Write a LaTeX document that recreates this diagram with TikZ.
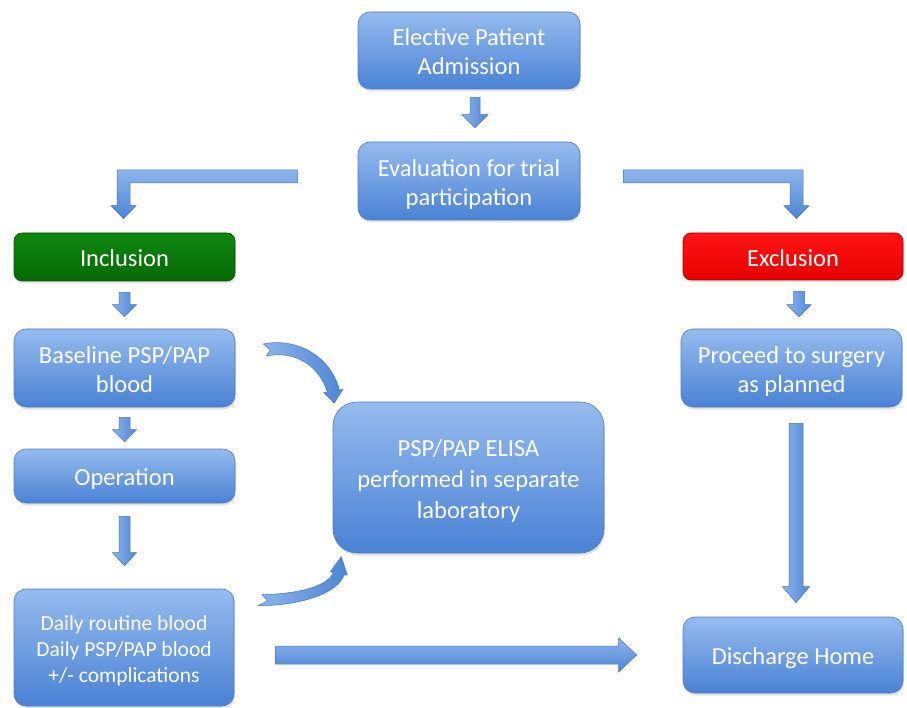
\documentclass[tikz,border=0pt]{standalone}
\usepackage{fontspec}
\setmainfont{Carlito}
\usetikzlibrary{calc,shadows}
\definecolor{boxT}{RGB}{150,187,238}
\definecolor{boxB}{RGB}{74,130,213}
\definecolor{boxE}{RGB}{80,125,190}
\definecolor{arrL}{RGB}{140,180,236}
\definecolor{arrR}{RGB}{78,133,212}
\definecolor{arrE}{RGB}{74,120,185}
\definecolor{grT}{RGB}{14,135,14}
\definecolor{grB}{RGB}{5,105,5}
\definecolor{grE}{RGB}{10,80,10}
\definecolor{rdT}{RGB}{255,20,20}
\definecolor{rdB}{RGB}{232,0,0}
\definecolor{rdE}{RGB}{170,0,0}
\newcommand\tx[1]{\raisebox{-4pt}[\height][\depth]{\begin{tabular}{@{}c@{}}#1\end{tabular}}}
\tikzset{
  boxbase/.style={rounded corners=12pt, line width=0.6pt, text=white,
    inner sep=0pt, font=\fontsize{24.5}{29}\selectfont,
    drop shadow={opacity=0.22, shadow xshift=1pt, shadow yshift=-2.5pt}},
  bluebox/.style={boxbase, draw=boxE, top color=boxT, bottom color=boxB},
  greenbox/.style={boxbase, rounded corners=8pt, draw=grE, top color=grT, bottom color=grB},
  redbox/.style={boxbase, rounded corners=8pt, draw=rdE, top color=rdT, bottom color=rdB},
  varrowst/.style={draw=arrE, line width=0.5pt, left color=arrL, right color=arrR},
  harrowst/.style={draw=arrE, line width=0.5pt, top color=arrL, bottom color=arrR},
}
% vertical block arrow: start, tip, shaft half width, head half width, head length
\newcommand\downarr[5]{\shade[varrowst] let \p1=#1, \p2=#2 in
  (\x1-#3,\y1) -- (\x1+#3,\y1) -- (\x1+#3,\y2+#5) -- (\x1+#4,\y2+#5) -- (\x1,\y2)
  -- (\x1-#4,\y2+#5) -- (\x1-#3,\y2+#5) -- cycle;}
% horizontal block arrow to the right
\newcommand\rightarr[5]{\shade[harrowst] let \p1=#1, \p2=#2 in
  (\x1,\y1+#3) -- (\x2-#5,\y1+#3) -- (\x2-#5,\y1+#4) -- (\x2,\y1) -- (\x2-#5,\y1-#4)
  -- (\x2-#5,\y1-#3) -- (\x1,\y1-#3) -- cycle;}
\begin{document}
\begin{tikzpicture}[x=1pt,y=-1pt]
\useasboundingbox (0,0) rectangle (907,708);
\fill[white] (0,0) rectangle (907,708);

\node[bluebox, minimum width=222pt, minimum height=77pt] (elective) at (469,50.5) {\tx{Elective Patient\\Admission}};
\node[bluebox, minimum width=222pt, minimum height=78pt] (eval) at (469,181) {\tx{Evaluation for trial\\participation}};
\node[greenbox, minimum width=221pt, minimum height=48pt] (incl) at (124.5,257) {\tx{Inclusion}};
\node[redbox, minimum width=220pt, minimum height=47pt] (excl) at (793,256.5) {\tx{Exclusion}};
\node[bluebox, minimum width=221pt, minimum height=78pt] (base) at (124.5,368) {\tx{Baseline PSP/PAP\\blood}};
\node[bluebox, minimum width=221pt, minimum height=78pt] (proc) at (791.5,368) {\tx{Proceed to surgery\\as planned}};
\node[bluebox, minimum width=221pt, minimum height=54pt] (oper) at (124.5,476) {\tx{Operation}};
\node[bluebox, minimum width=220pt, minimum height=117pt, font=\fontsize{21.5}{26}\selectfont] (daily) at (124,647.5) {\tx{Daily routine blood\\Daily PSP/PAP blood\\+/- complications}};
\node[bluebox, rounded corners=24pt, minimum width=271pt, minimum height=151pt, font=\fontsize{24.5}{31}\selectfont] (elisa) at (468.5,477.5) {\tx{PSP/PAP ELISA\\performed in separate\\laboratory}};
\node[bluebox, minimum width=220pt, minimum height=76pt] (disch) at (793,655) {\tx{Discharge Home}};

% straight arrows
\downarr{($(elective.south)+(6,8)$)}{($(eval.north)+(6,-14)$)}{5pt}{13pt}{13pt}
\downarr{($(incl.south)+(0,11)$)}{($(base.north)+(0,-12)$)}{5.5pt}{12pt}{12pt}
\downarr{($(base.south)+(0,10)$)}{($(oper.north)+(0,-7)$)}{5.5pt}{12pt}{12pt}
\downarr{($(oper.south)+(0,13)$)}{($(daily.north)+(0,-23)$)}{5.5pt}{12pt}{13pt}
\downarr{($(excl.south)+(6,11)$)}{($(proc.north)+(6,-12)$)}{5.5pt}{12pt}{12pt}
\downarr{($(proc.south)+(4.5,16)$)}{($(disch.north)+(3,-14)$)}{7pt}{13.5pt}{16pt}
\rightarr{($(daily.east)+(41,7.5)$)}{($(disch.west)+(-46,0)$)}{9pt}{17pt}{18pt}

% L-shaped arrows
\shade[harrowst] let \p1=($(eval.west)+(-60,-4.5)$), \p2=($(incl.north)+(-1,-14)$) in
  (\x1,\y1+6.5pt) -- (\x2-6.5pt,\y1+6.5pt) -- (\x2-6.5pt,\y2+13pt) -- (\x2-12.5pt,\y2+13pt)
  -- (\x2,\y2) -- (\x2+12.5pt,\y2+13pt) -- (\x2+6.5pt,\y2+13pt) -- (\x2+6.5pt,\y1-6.5pt)
  -- (\x1,\y1-6.5pt) -- cycle;
\shade[harrowst] let \p1=($(eval.east)+(43,-4.5)$), \p2=($(excl.north)+(3.5,-14)$) in
  (\x1,\y1+6.5pt) -- (\x2+6.5pt,\y1+6.5pt) -- (\x2+6.5pt,\y2+13pt) -- (\x2+12.5pt,\y2+13pt)
  -- (\x2,\y2) -- (\x2-12.5pt,\y2+13pt) -- (\x2-6.5pt,\y2+13pt) -- (\x2-6.5pt,\y1-6.5pt)
  -- (\x1,\y1-6.5pt) -- cycle;

% curved arrows to the laboratory
\begin{scope}[shift={(base.east)}]
  \shade[varrowst] (28,-24) .. controls (62,-31) and (96,-11) .. (104,22) -- (107.5,21.5)
    -- (99,35) -- (88.5,24.5) -- (92,24) .. controls (84,-2) and (60,-18) .. (31,-12)
    -- (35,-18) -- cycle;
\end{scope}
\begin{scope}[shift={(daily.north east)}]
  \shade[varrowst] (24,17) .. controls (66,17) and (103,5) .. (110,-14) -- (113,-13.5)
    -- (107,-32) -- (96,-17) -- (99,-16) .. controls (93,-2) and (64,5) .. (28,6)
    -- (33,12) -- cycle;
\end{scope}
\end{tikzpicture}
\end{document}
